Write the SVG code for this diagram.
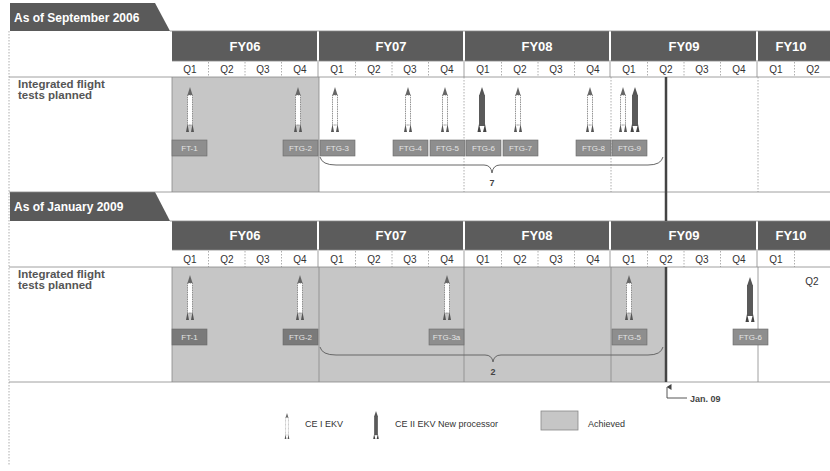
<svg xmlns="http://www.w3.org/2000/svg" xmlns:xlink="http://www.w3.org/1999/xlink" width="830" height="471" viewBox="0 0 830 471">
<style>
.tab{fill:#5a5a5a}
.tabt{font-family:"Liberation Sans",Arial,sans-serif;font-weight:bold;font-size:12px;fill:#fff}
.bar{fill:#5c5c5c}
.fy{font-family:"Liberation Sans",Arial,sans-serif;font-weight:bold;font-size:13px;fill:#fff;text-anchor:middle}
.q{font-family:"Liberation Sans",Arial,sans-serif;font-size:10px;fill:#333;text-anchor:middle}
.ach{fill:#c6c6c6}
.ln{stroke:#888;stroke-width:0.8;fill:none}
.dot{stroke:#999;stroke-width:0.8;stroke-dasharray:1.5 1.5;fill:none}
.row{font-family:"Liberation Sans",Arial,sans-serif;font-weight:bold;font-size:11.5px;fill:#555}
.lb{fill:#8e8e8e;stroke:#6a6a6a;stroke-width:0.6}
.lbt{font-family:"Liberation Sans",Arial,sans-serif;font-size:8px;fill:#e4e4e4;text-anchor:middle}
.brace{stroke:#666;stroke-width:1;fill:none}
.num{font-family:"Liberation Sans",Arial,sans-serif;font-weight:bold;font-size:9px;fill:#444;text-anchor:middle}
.leg{font-family:"Liberation Sans",Arial,sans-serif;font-size:9px;fill:#333}
</style>
<defs>
<g id="rw">
<path d="M0,0 L2.5,8 L-2.5,8 Z" fill="#666"/>
<rect x="-2.5" y="8" width="5" height="30" fill="#fff" stroke="#777" stroke-width="0.8" stroke-dasharray="1.5 0.8"/>
<path d="M-4,45 L-2.5,37 L-1,45 Z M1,45 L2.5,37 L4,45 Z" fill="#555"/>
</g>
<g id="rd">
<path d="M0,0 L3,9 L-3,9 Z" fill="#555"/>
<rect x="-3" y="8" width="6" height="31" fill="#5a5a5a"/>
<path d="M-4.5,45 L-3,37 L-1,45 Z M1,45 L3,37 L4.5,45 Z" fill="#444"/>
</g>
<marker id="ah" viewBox="0 0 6 6" refX="3" refY="0.5" markerWidth="6" markerHeight="6" orient="auto-start-reverse" markerUnits="userSpaceOnUse">
<path d="M0,5 L3,0 L6,5 Z" fill="#444"/>
</marker>
</defs>
<rect width="830" height="471" fill="#fff"/>

<g id="panel-2006">
<path class="tab" d="M10,3 L155,3 L170,31 L10,31 Z"/>
<text class="tabt" x="14" y="22">As of September 2006</text>
<rect class="bar" x="172" y="31" width="145" height="30"/>
<rect class="bar" x="319" y="31" width="144" height="30"/>
<rect class="bar" x="465" y="31" width="144" height="30"/>
<rect class="bar" x="611" y="31" width="145" height="30"/>
<rect class="bar" x="758" y="31" width="72" height="30"/>
<text class="fy" x="245" y="51">FY06</text>
<text class="fy" x="391" y="51">FY07</text>
<text class="fy" x="537" y="51">FY08</text>
<text class="fy" x="684" y="51">FY09</text>
<text class="fy" x="791" y="51">FY10</text>
<g class="q">
<text x="190" y="73">Q1</text><text x="227" y="73">Q2</text><text x="263" y="73">Q3</text><text x="300" y="73">Q4</text>
<text x="337" y="73">Q1</text><text x="374" y="73">Q2</text><text x="410" y="73">Q3</text><text x="447" y="73">Q4</text>
<text x="483" y="73">Q1</text><text x="520" y="73">Q2</text><text x="556" y="73">Q3</text><text x="593" y="73">Q4</text>
<text x="629" y="73">Q1</text><text x="666" y="73">Q2</text><text x="702" y="73">Q3</text><text x="739" y="73">Q4</text>
<text x="776" y="73">Q1</text><text x="813" y="73">Q2</text>
</g>
<path class="dot" d="M208.5,62 V77 M245,62 V77 M281.5,62 V77 M355.5,62 V77 M392,62 V77 M428.5,62 V77 M501.5,62 V77 M538,62 V77 M574.5,62 V77 M647.5,62 V77 M684,62 V77 M720.5,62 V77 M794.5,62 V77"/>
<path class="ln" d="M318,62 V77 M464,62 V77 M610,62 V77 M757,62 V77"/>
<rect class="ach" x="172" y="77" width="147" height="115"/>
<text class="row" x="18" y="88">Integrated flight</text>
<text class="row" x="18" y="99">tests planned</text>
<path class="ln" d="M172,77 V192 M319,77 V192"/>
<path class="dot" d="M464,77 V192 M611,77 V192 M758,77 V192"/>
<use xlink:href="#rw" transform="translate(190,87)"/>
<use xlink:href="#rw" transform="translate(298,87)"/>
<use xlink:href="#rw" transform="translate(335,87)"/>
<use xlink:href="#rw" transform="translate(408,87)"/>
<use xlink:href="#rw" transform="translate(445,87)"/>
<use xlink:href="#rd" transform="translate(482,87)"/>
<use xlink:href="#rw" transform="translate(518,87)"/>
<use xlink:href="#rw" transform="translate(590,87)"/>
<use xlink:href="#rw" transform="translate(623,87)"/>
<use xlink:href="#rd" transform="translate(635,87)"/>
<rect class="lb" x="172" y="140" width="35" height="16"/><text class="lbt" x="189.5" y="151">FT-1</text>
<rect class="lb" x="283" y="140" width="35" height="16"/><text class="lbt" x="300.5" y="151">FTG-2</text>
<rect class="lb" x="320" y="140" width="35" height="16"/><text class="lbt" x="337.5" y="151">FTG-3</text>
<rect class="lb" x="393" y="140" width="35" height="16"/><text class="lbt" x="410.5" y="151">FTG-4</text>
<rect class="lb" x="430" y="140" width="35" height="16"/><text class="lbt" x="447.5" y="151">FTG-5</text>
<rect class="lb" x="466" y="140" width="35" height="16"/><text class="lbt" x="483.5" y="151">FTG-6</text>
<rect class="lb" x="503" y="140" width="35" height="16"/><text class="lbt" x="520.5" y="151">FTG-7</text>
<rect class="lb" x="576" y="140" width="35" height="16"/><text class="lbt" x="593.5" y="151">FTG-8</text>
<rect class="lb" x="612" y="140" width="35" height="16"/><text class="lbt" x="629.5" y="151">FTG-9</text>
<path class="brace" d="M320,157 Q322,165 336,165 L484,165 Q491,165 492,173 Q493,165 500,165 L648,165 Q661,165 663,157"/>
<text class="num" x="492" y="186">7</text>
</g>

<g id="panel-2009">
<path class="tab" d="M10,192 L155,192 L170,221 L10,221 Z"/>
<text class="tabt" x="14" y="211">As of January 2009</text>
<rect class="bar" x="172" y="221" width="145" height="29"/>
<rect class="bar" x="319" y="221" width="144" height="29"/>
<rect class="bar" x="465" y="221" width="144" height="29"/>
<rect class="bar" x="611" y="221" width="145" height="29"/>
<rect class="bar" x="758" y="221" width="72" height="29"/>
<text class="fy" x="245" y="240">FY06</text>
<text class="fy" x="391" y="240">FY07</text>
<text class="fy" x="537" y="240">FY08</text>
<text class="fy" x="684" y="240">FY09</text>
<text class="fy" x="791" y="240">FY10</text>
<g class="q">
<text x="190" y="263">Q1</text><text x="227" y="263">Q2</text><text x="263" y="263">Q3</text><text x="300" y="263">Q4</text>
<text x="337" y="263">Q1</text><text x="374" y="263">Q2</text><text x="410" y="263">Q3</text><text x="447" y="263">Q4</text>
<text x="483" y="263">Q1</text><text x="520" y="263">Q2</text><text x="556" y="263">Q3</text><text x="593" y="263">Q4</text>
<text x="629" y="263">Q1</text><text x="666" y="263">Q2</text><text x="702" y="263">Q3</text><text x="739" y="263">Q4</text>
<text x="776" y="263">Q1</text>
<text x="812" y="285">Q2</text>
</g>
<path class="dot" d="M208.5,251 V267 M245,251 V267 M281.5,251 V267 M355.5,251 V267 M392,251 V267 M428.5,251 V267 M501.5,251 V267 M538,251 V267 M574.5,251 V267 M647.5,251 V267 M684,251 V267 M720.5,251 V267 M794.5,251 V267"/>
<path class="ln" d="M318,251 V267 M464,251 V267 M610,251 V267 M757,251 V267"/>
<rect class="ach" x="172" y="267" width="494" height="115"/>
<text class="row" x="18" y="278">Integrated flight</text>
<text class="row" x="18" y="289">tests planned</text>
<path class="ln" d="M172,267 V382 M319,267 V382 M464,267 V382 M611,267 V382"/>
<path class="ln" d="M758,267 V382"/>
<use xlink:href="#rw" transform="translate(190,275)"/>
<use xlink:href="#rw" transform="translate(300,275)"/>
<use xlink:href="#rw" transform="translate(447,275)"/>
<use xlink:href="#rw" transform="translate(629,275)"/>
<use xlink:href="#rd" transform="translate(750,277)"/>
<rect class="lb" x="172" y="329" width="35" height="16" style="fill:#7a7a7a"/><text class="lbt" x="189.5" y="340">FT-1</text>
<rect class="lb" x="283" y="329" width="35" height="16" style="fill:#7a7a7a"/><text class="lbt" x="300.5" y="340">FTG-2</text>
<rect class="lb" x="429" y="329" width="35" height="16"/><text class="lbt" x="446.5" y="340">FTG-3a</text>
<rect class="lb" x="612" y="329" width="35" height="16"/><text class="lbt" x="629.5" y="340">FTG-5</text>
<rect class="lb" x="733" y="329" width="35" height="16"/><text class="lbt" x="750.5" y="340">FTG-6</text>
<path class="brace" d="M320,347 Q322,355 336,355 L485,355 Q492,355 493,362 Q494,355 501,355 L648,355 Q661,355 663,347"/>
<text class="num" x="493" y="375">2</text>
</g>

<g id="frame">
<path class="ln" d="M170,31 H830 M9,77 H830 M9,192 H830 M170,221 H830 M9,267 H830 M9,382 H830"/>
<path class="dot" d="M9,31 V465"/>
<path class="ln" d="M172,61 H830 M172,250 H830"/>
</g>

<g id="connectors">
<path d="M666,77 V221 M666,267 V382" stroke="#444" stroke-width="2.5" fill="none"/>
<path d="M667,398 H687" stroke="#444" stroke-width="0.9" fill="none"/>
<path d="M667,398 V387" stroke="#444" stroke-width="0.9" fill="none" marker-end="url(#ah)"/>
<text class="leg" x="690" y="402" style="font-weight:bold;fill:#444">Jan. 09</text>
</g>

<g id="legend">
<use xlink:href="#rw" transform="translate(287,413) scale(0.58)"/>
<text class="leg" x="305" y="427">CE I EKV</text>
<use xlink:href="#rd" transform="translate(376,411) scale(0.62)"/>
<text class="leg" x="395" y="427">CE II EKV New processor</text>
<rect x="541" y="411" width="37" height="19" fill="#c6c6c6" stroke="#888" stroke-width="0.8"/>
<text class="leg" x="588" y="427">Achieved</text>
</g>
</svg>
